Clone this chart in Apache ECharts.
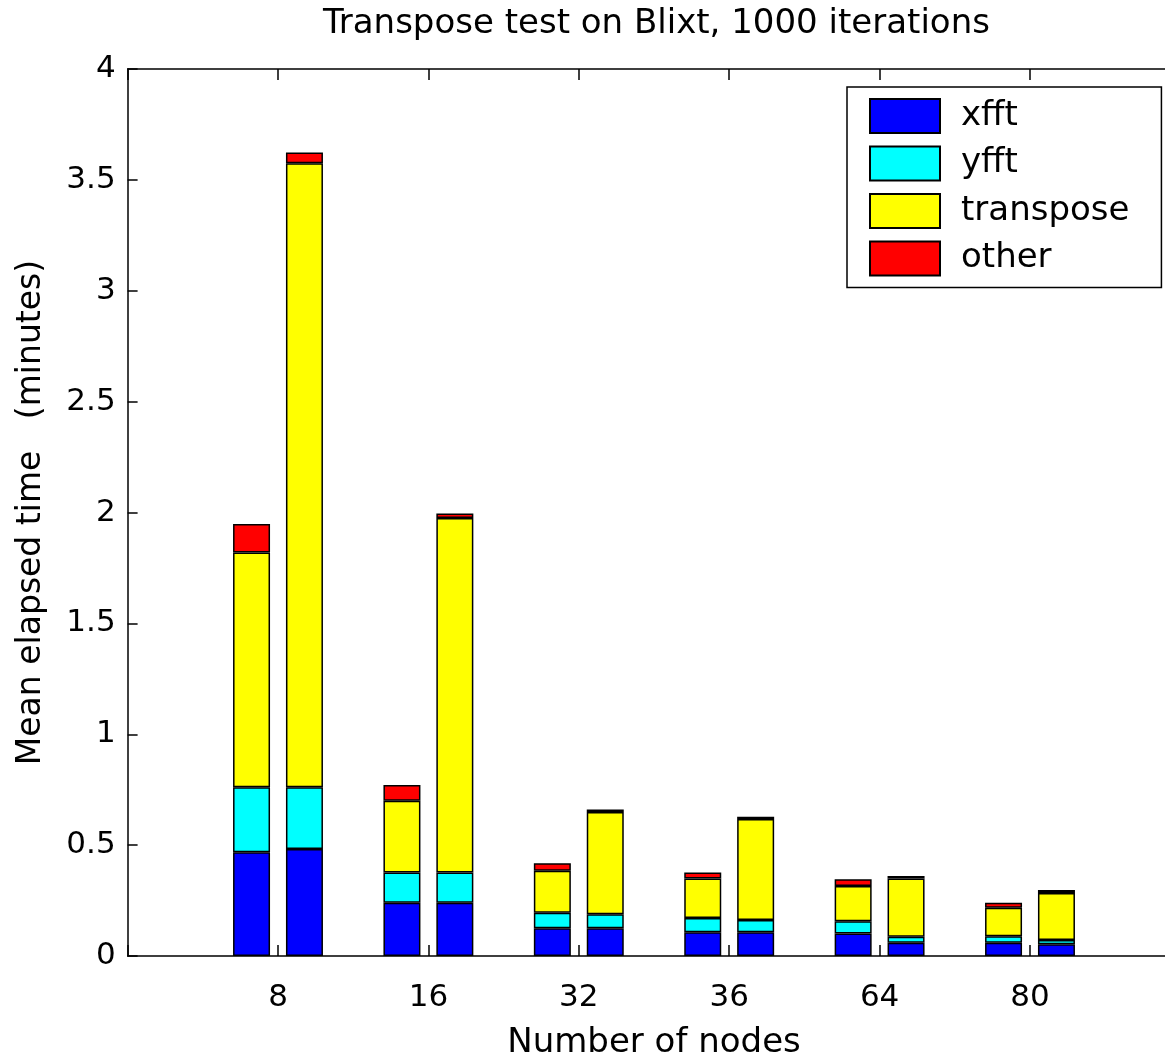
<!DOCTYPE html>
<html>
<head>
<meta charset="utf-8">
<script src="https://cdn.jsdelivr.net/npm/echarts@6/dist/echarts.min.js"></script>
<style>
html,body{margin:0;padding:0;background:#fff;}
#chart{width:1165px;height:1056px;}
</style>
</head>
<body>
<div id="chart"></div>
<script>
// Categories (number of nodes)
var categories = ['8', '16', '32', '36', '64', '80'];
// First bar in each group
var xfft1      = [0.468, 0.240, 0.125, 0.107, 0.102, 0.060];
var yfft1      = [0.293, 0.137, 0.070, 0.064, 0.055, 0.029];
var transpose1 = [1.059, 0.323, 0.190, 0.178, 0.159, 0.129];
var other1     = [0.128, 0.071, 0.033, 0.028, 0.030, 0.022];
// Second bar in each group
var xfft2      = [0.483, 0.240, 0.125, 0.107, 0.060, 0.053];
var yfft2      = [0.278, 0.136, 0.063, 0.055, 0.027, 0.019];
var transpose2 = [2.814, 1.599, 0.461, 0.456, 0.262, 0.212];
var other2     = [0.048, 0.021, 0.012, 0.010, 0.012, 0.014];

var seriesNames = ['xfft', 'yfft', 'transpose', 'other'];
var colors = ['#0000ff', '#00ffff', '#ffff00', '#ff0000'];
var yTicks = [0, 0.5, 1, 1.5, 2, 2.5, 3, 3.5, 4];

var FONT = 'DejaVu Sans';
// axis slots: empty slot at each end so the categories sit at positions 1..6
var axisCats = [''].concat(categories).concat(['']);
function pad(arr) { return [null].concat(arr).concat([null]); }

var groups = [
  {stack: 'A', data: [xfft1, yfft1, transpose1, other1]},
  {stack: 'B', data: [xfft2, yfft2, transpose2, other2]}
];
var series = [];
groups.forEach(function (g) {
  g.data.forEach(function (vals, i) {
    series.push({
      type: 'bar',
      name: seriesNames[i],
      stack: g.stack,
      xAxisIndex: 0,
      barWidth: 37,
      barGap: '43%',
      data: pad(vals),
      itemStyle: {color: colors[i], borderColor: '#000', borderWidth: 1.5},
      emphasis: {disabled: true},
      animation: false
    });
  });
});

var chart = echarts.init(document.getElementById('chart'), null, {renderer: 'canvas'});
chart.setOption({
  animation: false,
  backgroundColor: '#fff',
  textStyle: {fontFamily: FONT, color: '#000'},
  title: {
    text: 'Transpose test on Blixt, 1000 iterations',
    left: 318, top: 2,
    textStyle: {fontFamily: FONT, fontSize: 34, fontWeight: 'normal', color: '#000'}
  },
  legend: {
    data: seriesNames,
    orient: 'vertical',
    left: 847, top: 87,
    padding: [11, 32, 11, 22],
    itemWidth: 70, itemHeight: 34, itemGap: 11.5,
    icon: 'rect',
    borderColor: '#000', borderWidth: 1.5,
    backgroundColor: '#fff',
    selectedMode: false,
    textStyle: {fontFamily: FONT, fontSize: 34, color: '#000', padding: [0, 0, 0, 16]}
  },
  grid: {left: 127.6, width: 1052.8, top: 69, height: 887, containLabel: false, outerBoundsMode: 'none'},
  xAxis: [{
    type: 'category',
    data: axisCats,
    boundaryGap: false,
    position: 'bottom',
    name: 'Number of nodes',
    nameLocation: 'middle',
    nameGap: 70,
    nameTextStyle: {fontFamily: FONT, fontSize: 34, color: '#000'},
    axisLine: {show: true, lineStyle: {color: '#000', width: 1.5}},
    axisTick: {show: true, inside: true, length: 11, interval: 0, lineStyle: {color: '#000', width: 1.5}},
    axisLabel: {show: true, interval: 0, margin: 26, fontFamily: FONT, fontSize: 31, color: '#000'},
    splitLine: {show: false}
  }, {
    type: 'category',
    data: axisCats,
    boundaryGap: false,
    position: 'top',
    axisLine: {show: true, lineStyle: {color: '#000', width: 1.5}},
    axisTick: {show: true, inside: true, length: 11, interval: 0, lineStyle: {color: '#000', width: 1.5}},
    axisLabel: {show: false},
    splitLine: {show: false}
  }],
  yAxis: {
    type: 'value',
    min: yTicks[0], max: yTicks[yTicks.length - 1], interval: 0.5,
    name: 'Mean elapsed time   (minutes)',
    nameLocation: 'middle',
    nameGap: 80,
    nameTextStyle: {fontFamily: FONT, fontSize: 33, color: '#000'},
    axisLine: {show: true, lineStyle: {color: '#000', width: 1.5}},
    axisTick: {show: true, inside: true, length: 10, lineStyle: {color: '#000', width: 1.5}},
    axisLabel: {margin: 12, fontFamily: FONT, fontSize: 31, color: '#000'},
    splitLine: {show: false}
  },
  series: series
});
</script>
</body>
</html>
